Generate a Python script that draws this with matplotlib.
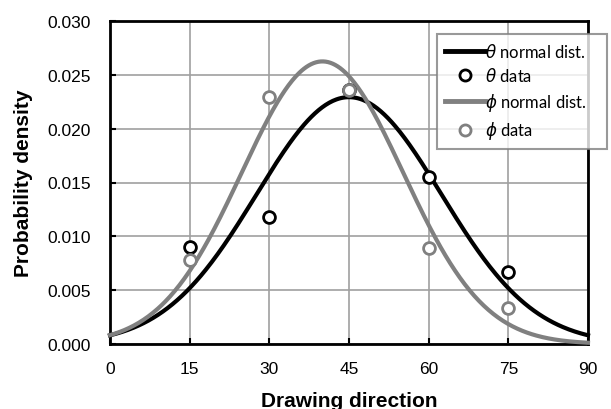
import numpy as np
import matplotlib
matplotlib.use("Agg")
import matplotlib.pyplot as plt
from matplotlib.lines import Line2D

# Data
x_data = [15, 30, 45, 60, 75]
theta_data = [0.0090, 0.0118, 0.0236, 0.0155, 0.0067]
phi_data = [0.0078, 0.0229, 0.0236, 0.0089, 0.0033]
theta_mean, theta_sd = 45.0, 17.4
phi_mean, phi_sd = 40.0, 15.2
x_ticks = [0, 15, 30, 45, 60, 75, 90]
y_ticks = [0.000, 0.005, 0.010, 0.015, 0.020, 0.025, 0.030]

def normal_pdf(x, m, s):
    return np.exp(-(x - m) ** 2 / (2 * s * s)) / (s * np.sqrt(2 * np.pi))

xs = np.linspace(0, 90, 400)

plt.rcParams['font.family'] = ['Liberation Sans', 'DejaVu Sans']
fig = plt.figure(figsize=(6.11, 4.10), dpi=100)
ax = fig.add_axes([110/611, 1 - 345/410, (588-110)/611, (345-22)/410])

ax.plot(xs, normal_pdf(xs, theta_mean, theta_sd), color='black', lw=3, zorder=3, clip_on=False)
ax.plot(x_data, theta_data, 'o', ms=8.5, mfc='white', mec='black', mew=2, zorder=4, ls='none')
ax.plot(xs, normal_pdf(xs, phi_mean, phi_sd), color='#808080', lw=3, zorder=3, clip_on=False)
ax.plot(x_data, phi_data, 'o', ms=8.5, mfc='white', mec='#808080', mew=2, zorder=5, ls='none')

ax.set_xlim(0, 90)
ax.set_ylim(0, 0.030)
ax.set_xticks(x_ticks)
ax.set_yticks(y_ticks)
ax.set_yticklabels([f"{v:.3f}" for v in y_ticks])
ax.grid(True, color='#a0a0a0', lw=1.2)
ax.set_axisbelow(True)
for s in ax.spines.values():
    s.set_linewidth(2)
    s.set_color('black')
ax.tick_params(direction='in', length=4, width=1.5, labelsize=12.5)
ax.tick_params(axis='y', pad=14)
ax.tick_params(axis='x', pad=12)
ax.set_xlabel('Drawing direction', fontsize=15, fontweight='bold', labelpad=11)
ax.set_ylabel('Probability density', fontsize=15, fontweight='bold', labelpad=10)

handles = [
    Line2D([], [], color='black', lw=3.5),
    Line2D([], [], ls='none', marker='o', ms=8, mfc='white', mec='black', mew=2),
    Line2D([], [], color='#808080', lw=3.5),
    Line2D([], [], ls='none', marker='o', ms=8, mfc='white', mec='#808080', mew=2),
]
labels = [r'$\theta$ normal dist.', r'$\theta$ data', r'$\phi$ normal dist.', r'$\phi$ data']
leg = fig.legend(handles, labels, loc='upper left', mode='expand',
                 bbox_to_anchor=(437/611, 1 - 142/410, 170/611, 107/410),
                 fontsize=12, frameon=True, fancybox=False, edgecolor='#808080',
                 handlelength=2.4, handletextpad=0.05, labelspacing=0.4, borderpad=0.45,
                 borderaxespad=0)
leg.get_frame().set_linewidth(1.5)
for t in leg.get_texts():
    t.set_family(['Lato', 'DejaVu Sans'])

fig.savefig('out.png', dpi=100)
